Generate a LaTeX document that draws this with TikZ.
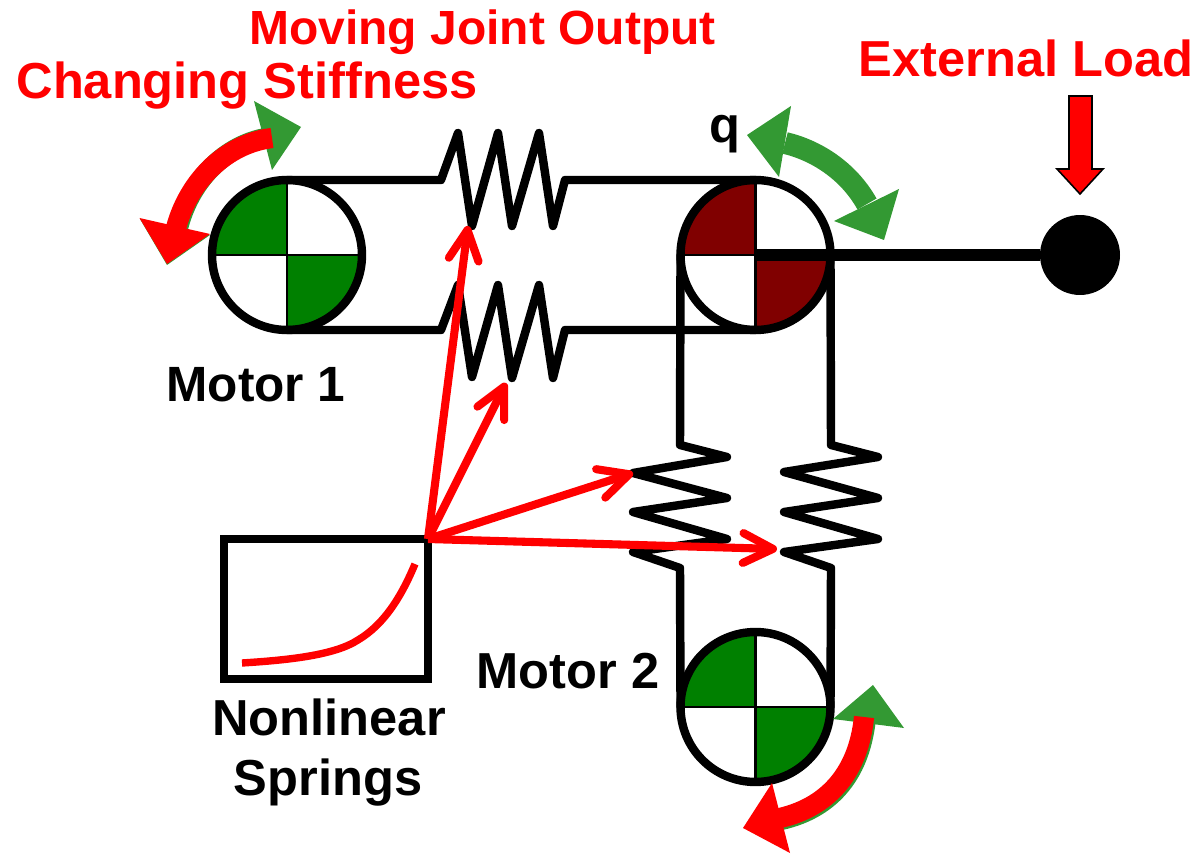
\documentclass[tikz,border=0pt]{standalone}
\usepackage{fontspec}
\setmainfont{Liberation Sans}
\usetikzlibrary{arrows.meta}
\definecolor{arrowgreen}{HTML}{339933}
\definecolor{wheelgreen}{HTML}{008000}
\definecolor{wheelred}{HTML}{800000}
\tikzset{
  wheel/.style={circle,draw=black,line width=4.8pt,minimum size=3cm,inner sep=0pt,outer sep=0pt},
  belt/.style={draw=black,line width=4.8pt,line join=round,line cap=round},
  hair/.style={draw=black,line width=1.3pt},
  pointer/.style={draw=red,line width=4.6pt,-{Straight Barb[length=17pt,width=17pt,round]}},
  turnshaft/.style={line width=11.5pt},
  redlabel/.style={anchor=base,text=red,inner sep=0pt,font=\bfseries\fontsize{28.8}{30}\selectfont},
  blacklabel/.style={anchor=base,text=black,inner sep=0pt,font=\bfseries\fontsize{28.8}{30}\selectfont}
}
\newcommand{\wheelquads}[3]{%
  \begin{scope}
    \clip (#1,#2) circle [radius=75];
    \fill[#3] (#1-80,#2-80) rectangle (#1,#2);
    \fill[#3] (#1,#2) rectangle (#1+80,#2+80);
  \end{scope}
  \draw[hair] (#1-75,#2) -- (#1+75,#2);
  \draw[hair] (#1,#2-75) -- (#1,#2+75);
}
\begin{document}
\begin{tikzpicture}[x=0.02cm,y=-0.02cm]
\useasboundingbox (0,0) rectangle (1200,854);
\fill[white] (0,0) rectangle (1200,854);

% wheel fills
\wheelquads{287}{255}{wheelgreen}
\wheelquads{755.5}{255}{wheelred}
\wheelquads{755.5}{707}{wheelgreen}

% wheels
\node[wheel] (m1) at (287,255) {};
\node[wheel] (j) at (755.5,255) {};
\node[wheel] (m2) at (755.5,707) {};
\node[circle,fill=black,minimum size=1.6cm,inner sep=0pt,outer sep=0pt] (ball) at (1080,255) {};

% spring attachment points
\coordinate (s1tip) at (472,226);
\coordinate (s2tip) at (512,378);
\coordinate (s3tip) at (633,473);
\coordinate (s4tip) at (777,549);

% horizontal belts and springs
\draw[belt] (m1.north) -- (441,180) -- (458,133) -- (s1tip) -- (498,133) -- (512,226) -- (539,133) -- (553,226) -- (565,180) -- (j.north);
\draw[belt] (m1.south) -- (441,330) -- (458,285) -- (472,377) -- (498,285) -- (s2tip) -- (539,285) -- (553,378) -- (565,330) -- (j.south);

% vertical belts and springs
\draw[belt] (j.west) -- (680,445) -- (727,457) -- (s3tip) -- (727,498) -- (633,512) -- (727,539) -- (633,552) -- (680,568) -- (m2.west);
\draw[belt] (j.east) -- (831,445) -- (878,457) -- (784,472) -- (878,498) -- (784,512) -- (878,539) -- (784,552) -- (831,568) -- (m2.east);

% output rod
\draw[line width=6.6pt] (j.center) -- (ball);

% nonlinear spring box
\node[draw=black,line width=4.8pt,minimum width=4.08cm,minimum height=2.8cm,inner sep=0pt,outer sep=0pt] (box) at (326,609) {};
\draw[red,line width=4.2pt] (242,663) .. controls (290,660) and (335,655) .. (358,640) .. controls (385,624) and (402,595) .. (415,564);

% red pointers
\draw[pointer] (box.north east) -- (468,226);
\draw[pointer] (box.north east) -- (506,383);
\draw[pointer] (box.north east) -- (s3tip);
\draw[pointer] (box.north east) -- (s4tip);

% motor 1 rotation arrow
\draw[arrowgreen,turnshaft] (272,137) .. controls (224,143) and (189,183) .. (178,228);
\fill[arrowgreen] (254,101) -- (301,127) -- (272,170) -- cycle;
\fill[arrowgreen] (140,219) -- (210,235) -- (167,265) -- cycle;
\draw[red,turnshaft] (272,138) .. controls (224,144) and (188,183) .. (176,228);
\fill[red] (139.5,218) -- (210,234) -- (167,264) -- cycle;

% joint rotation arrow
\draw[arrowgreen,line width=12.5pt] (785,143) .. controls (815,150) and (848,170) .. (867,204);
\fill[arrowgreen] (791,106) -- (747,135) -- (779,177) -- cycle;
\fill[arrowgreen] (899,189) -- (834,221) -- (884,240) -- cycle;

% motor 2 rotation arrow
\draw[arrowgreen,turnshaft] (866,717) .. controls (861,770) and (834,808) .. (781,820);
\fill[arrowgreen] (873,685) -- (833,719) -- (904,728) -- cycle;
\draw[red,turnshaft] (864,717) .. controls (859,768) and (832,806) .. (780,818);
\fill[red] (772,783) -- (743,828) -- (790,853) -- cycle;

% external load arrow
\draw[draw=black,fill=red,line width=0.9pt,line join=miter] (1069,96) -- (1092,96) -- (1092,169) -- (1103,169) -- (1080,194) -- (1057,169) -- (1069,169) -- cycle;

% labels
\node[redlabel,font=\bfseries\fontsize{27.3}{30}\selectfont] (lmove) at (482.5,45) {Moving Joint Output};
\node[redlabel] (lstiff) at (247,99) {Changing Stiffness};
\node[redlabel] (lload) at (1026,77) {External Load};
\node[blacklabel,font=\bfseries\fontsize{28.2}{30}\selectfont] (lm1) at (256,402) {Motor 1};
\node[blacklabel] (lm2) at (568,688) {Motor 2};
\node[blacklabel] (lq) at (725,143) {q};
\node[blacklabel] (lnl) at (329,735) {Nonlinear};
\node[blacklabel] (lspr) at (328,795) {Springs};
\end{tikzpicture}
\end{document}
